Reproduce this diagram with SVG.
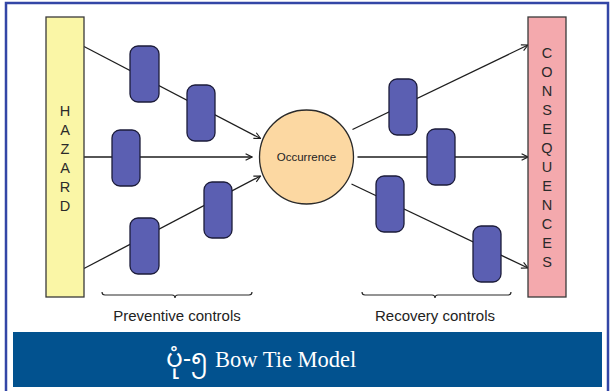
<svg xmlns="http://www.w3.org/2000/svg" width="613" height="391" viewBox="0 0 613 391">
  <defs>
    <marker id="arrow" viewBox="0 0 10 10" refX="9" refY="5" markerWidth="8" markerHeight="8" markerUnits="userSpaceOnUse" orient="auto">
      <path d="M1,1 L9,5 L1,9" fill="none" stroke="#1e1e1e" stroke-width="1.4"/>
    </marker>
  </defs>
  <style>
    .frame { fill: #ffffff; stroke: #3346a6; stroke-width: 2.5; }
    .bar { stroke: #3a3a3a; stroke-width: 1.3; }
    .hazard { fill: #faf6a6; }
    .conseq { fill: #f4a9ad; }
    .occ { fill: #fcd8a2; stroke: #2a2a2a; stroke-width: 1.3; }
    .ctrl { fill: #5b5fb2; stroke: #1c1c3a; stroke-width: 1.3; }
    .link { fill: none; stroke: #1e1e1e; stroke-width: 1.3; }
    .brace { fill: none; stroke: #2a2a2a; stroke-width: 1.2; }
    .letter { font-family: "Liberation Sans", Arial, sans-serif; font-size: 14.5px; fill: #2a2a2a; text-anchor: middle; }
    .label { font-family: "Liberation Sans", Arial, sans-serif; font-size: 15px; fill: #222222; text-anchor: middle; }
    .occ-text { font-family: "Liberation Sans", Arial, sans-serif; font-size: 11.5px; fill: #222222; text-anchor: middle; }
    .title { font-family: "Liberation Serif", "Times New Roman", serif; font-size: 22.5px; fill: #ffffff; }
    .title-mm { font-family: "Noto Sans Myanmar", "Padauk", "Myanmar Text", sans-serif; font-size: 25px; fill: #ffffff; }
  </style>

  <rect width="613" height="391" fill="#ffffff"/>
  <rect class="frame" x="6" y="3" width="602" height="400"/>

  <!-- connectors -->
  <g id="connectors">
    <line class="link" x1="84" y1="46.5" x2="260.5" y2="138.5" marker-end="url(#arrow)"/>
    <line class="link" x1="84" y1="157" x2="252" y2="157" marker-end="url(#arrow)"/>
    <line class="link" x1="84" y1="268.5" x2="260.5" y2="176" marker-end="url(#arrow)"/>
    <line class="link" x1="352.5" y1="129.5" x2="528" y2="45" marker-end="url(#arrow)"/>
    <line class="link" x1="357.5" y1="157" x2="528" y2="157" marker-end="url(#arrow)"/>
    <line class="link" x1="351.5" y1="184" x2="528" y2="268" marker-end="url(#arrow)"/>
  </g>

  <!-- hazard -->
  <g id="hazard">
    <rect class="hazard bar" x="46" y="17" width="38" height="280"/>
    <text class="letter" x="65" y="115.5">H</text>
    <text class="letter" x="65" y="134.5">A</text>
    <text class="letter" x="65" y="153.5">Z</text>
    <text class="letter" x="65" y="172.5">A</text>
    <text class="letter" x="65" y="191.5">R</text>
    <text class="letter" x="65" y="210.5">D</text>
  </g>

  <!-- consequences -->
  <g id="consequences">
    <rect class="conseq bar" x="528" y="17" width="38" height="280"/>
    <text class="letter" x="547" y="58">C</text>
    <text class="letter" x="547" y="77">O</text>
    <text class="letter" x="547" y="96">N</text>
    <text class="letter" x="547" y="115">S</text>
    <text class="letter" x="547" y="134">E</text>
    <text class="letter" x="547" y="153">Q</text>
    <text class="letter" x="547" y="172">U</text>
    <text class="letter" x="547" y="191">E</text>
    <text class="letter" x="547" y="210">N</text>
    <text class="letter" x="547" y="229">C</text>
    <text class="letter" x="547" y="248">E</text>
    <text class="letter" x="547" y="267">S</text>
  </g>

  <!-- occurrence -->
  <g id="occurrence">
    <circle class="occ" cx="306.5" cy="157" r="47"/>
    <text class="occ-text" x="306.5" y="161">Occurrence</text>
  </g>

  <!-- preventive controls -->
  <g id="prev-1"><rect class="ctrl" x="130" y="46" width="29" height="56" rx="8"/></g>
  <g id="prev-2"><rect class="ctrl" x="187" y="85" width="28" height="56" rx="8"/></g>
  <g id="prev-3"><rect class="ctrl" x="112" y="130" width="28" height="56" rx="8"/></g>
  <g id="prev-4"><rect class="ctrl" x="130" y="218" width="29" height="56" rx="8"/></g>
  <g id="prev-5"><rect class="ctrl" x="204" y="182" width="28" height="56" rx="8"/></g>

  <!-- recovery controls -->
  <g id="rec-1"><rect class="ctrl" x="389" y="79" width="28" height="56" rx="8"/></g>
  <g id="rec-2"><rect class="ctrl" x="427" y="129" width="28" height="56" rx="8"/></g>
  <g id="rec-3"><rect class="ctrl" x="376" y="176" width="28" height="56" rx="8"/></g>
  <g id="rec-4"><rect class="ctrl" x="473" y="226" width="28" height="56" rx="8"/></g>

  <!-- group labels -->
  <g id="preventive-label">
    <path class="brace" d="M102,292 Q102,295 105,295 L172,295 Q175,295 175,298 Q175,295 178,295 L249,295 Q252,295 252,292"/>
    <text class="label" x="177" y="321">Preventive controls</text>
  </g>
  <g id="recovery-label">
    <path class="brace" d="M362,292 Q362,295 365,295 L432,295 Q435,295 435,298 Q435,295 438,295 L508,295 Q511,295 511,292"/>
    <text class="label" x="435" y="321">Recovery controls</text>
  </g>

  <!-- caption -->
  <g id="caption">
    <rect x="13" y="332" width="589" height="55" fill="#02528f"/>
    <text class="title-mm" x="166" y="367">ပုံ-၅</text>
    <text class="title" x="215" y="367">Bow Tie Model</text>
  </g>
</svg>
